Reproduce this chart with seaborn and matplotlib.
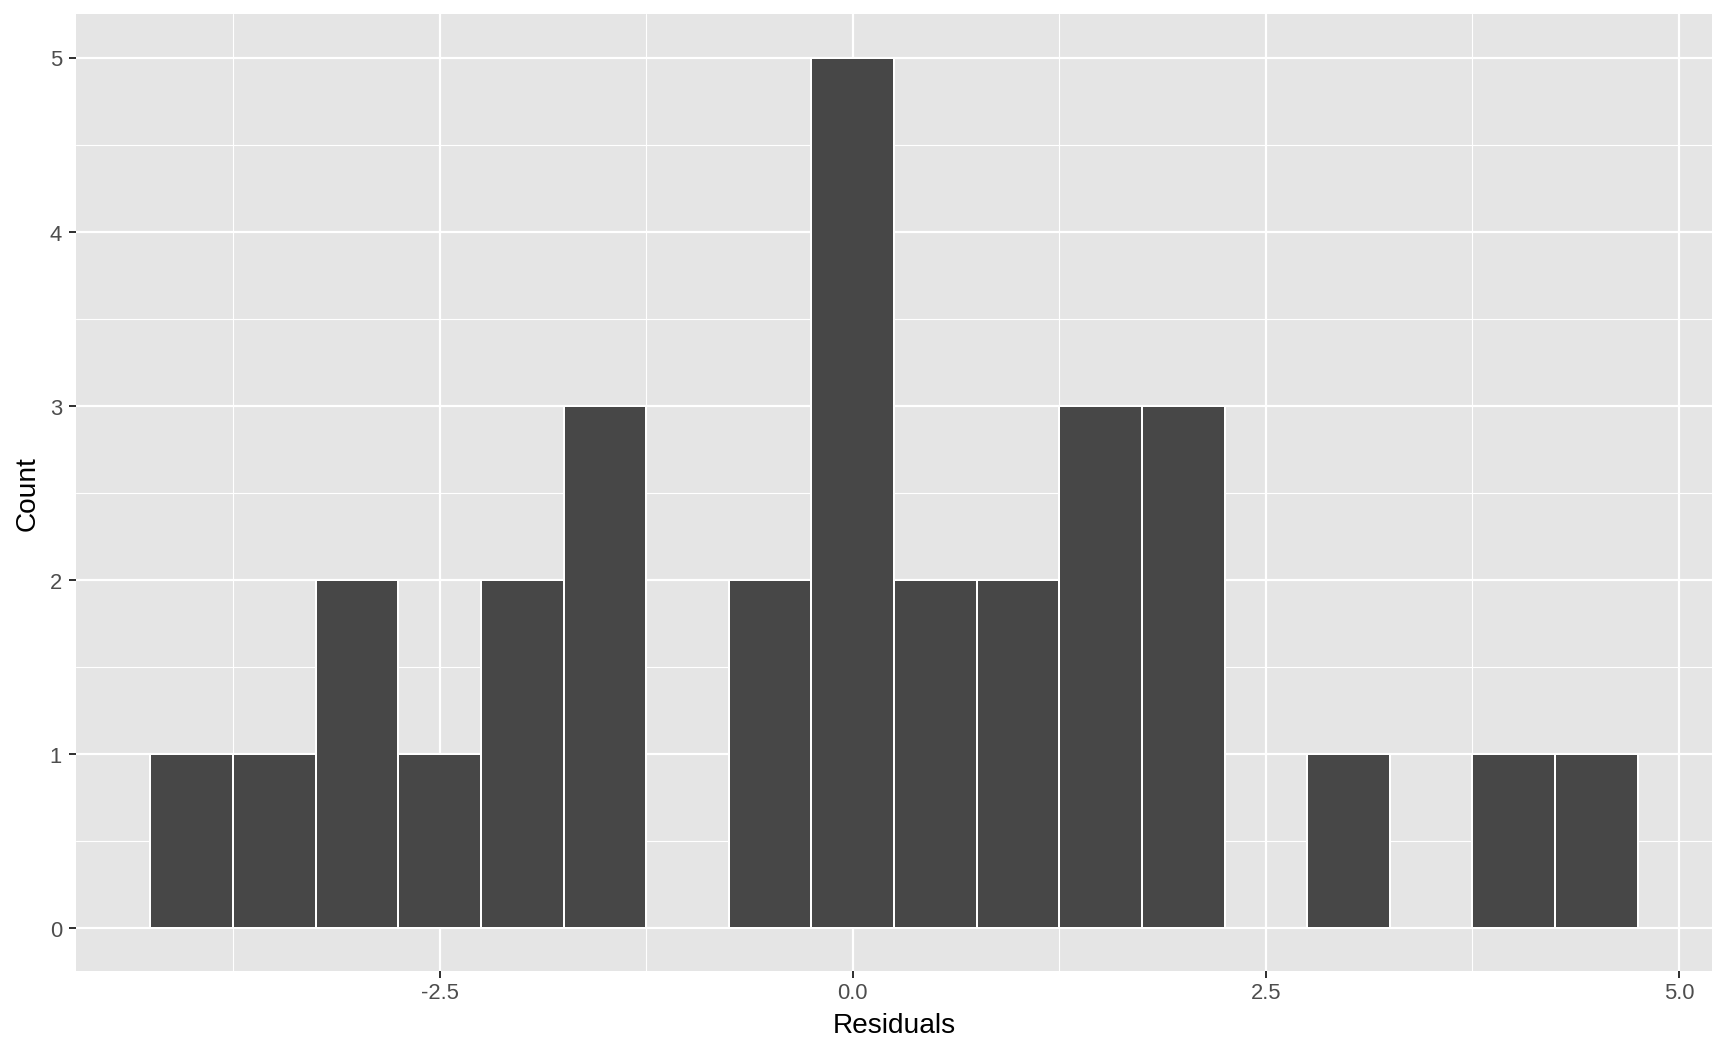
#!/usr/bin/env python3
"""Histogram of residuals, ggplot-like look."""

import matplotlib
matplotlib.use("Agg")
import matplotlib.pyplot as plt
import pandas as pd
import seaborn as sns
from matplotlib.ticker import FixedLocator

# bin centres (width 0.5) and counts
bin_centers = [-4.0, -3.5, -3.0, -2.5, -2.0, -1.5, -1.0, -0.5, 0.0,
               0.5, 1.0, 1.5, 2.0, 2.5, 3.0, 3.5, 4.0, 4.5]
bin_counts = [1, 1, 2, 1, 2, 3, 0, 2, 5, 2, 2, 3, 3, 0, 1, 0, 1, 1]
bin_width = 0.5
x_ticks = [-2.5, 0.0, 2.5, 5.0]
x_tick_labels = ["-2.5", "0.0", "2.5", "5.0"]
x_minor = [-3.75, -1.25, 1.25, 3.75]
y_ticks = [0, 1, 2, 3, 4, 5]
y_minor = [0.5, 1.5, 2.5, 3.5, 4.5]

sns.set_theme(style="white")
plt.rcParams["font.family"] = ["Liberation Sans", "DejaVu Sans"]

df = pd.DataFrame({"resid": bin_centers, "n": bin_counts})

fig = plt.figure(figsize=(12, 7.3333), dpi=144)
ax = fig.add_axes([0.044, 0.0795, 0.9468, 0.9063])

lo = bin_centers[0] - bin_width / 2
hi = bin_centers[-1] + bin_width / 2
sns.histplot(data=df, x="resid", weights="n", binwidth=bin_width,
             binrange=(lo, hi), ax=ax, color="#474747", alpha=1.0,
             edgecolor="white", linewidth=1.0)

pad = (hi - lo) * 0.05
ax.set_xlim(lo - pad, hi + pad)
ax.set_ylim(-0.25, 5.25)

ax.set_facecolor("#E5E5E5")
for s in ax.spines.values():
    s.set_visible(False)
ax.set_axisbelow(True)

ax.xaxis.set_major_locator(FixedLocator(x_ticks))
ax.set_xticklabels(x_tick_labels)
ax.xaxis.set_minor_locator(FixedLocator(x_minor))
ax.yaxis.set_major_locator(FixedLocator(y_ticks))
ax.yaxis.set_minor_locator(FixedLocator(y_minor))

ax.grid(which="major", color="white", linewidth=1.1)
ax.grid(which="minor", color="white", linewidth=0.55)
ax.tick_params(which="major", length=3.5, width=1.0, color="#333333",
               labelsize=11, labelcolor="#4D4D4D",
               bottom=True, left=True)
ax.tick_params(axis="x", which="major", pad=1.8)
ax.tick_params(axis="y", which="major", pad=3.5)
ax.tick_params(which="minor", length=0)

ax.set_xlabel("Residuals", fontsize=14, color="black", labelpad=4.5)
ax.set_ylabel("Count", fontsize=14, color="black", labelpad=4.5)

fig.savefig("out.png", dpi=144, facecolor="white")
